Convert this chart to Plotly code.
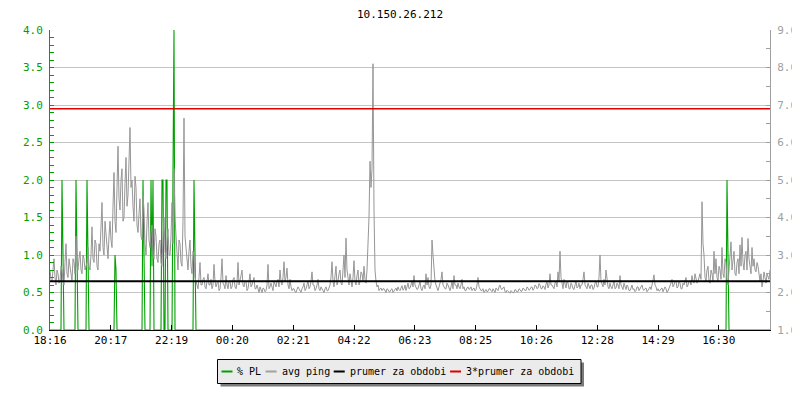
import plotly.graph_objects as go

# ---------------- data ----------------
title_text = "10.150.26.212"
series_names = ["% PL", "avg ping", "prumer za obdobi", "3*prumer za obdobi"]
tick_labels = ["18:16", "20:17", "22:19", "00:20", "02:21", "04:22",
               "06:23", "08:25", "10:26", "12:28", "14:29", "16:30"]
tick_step_min = 121.6      # minutes between labelled ticks
sample_step_min = 2        # minutes between samples
span_min = 1440

# avg ping [ms] (right axis), one value per sample (2 min)
avg_ping = [
    2.6, 2.35, 2.3, 2.75, 2.9, 2.4, 2.2, 2.6, 2.5, 2.25, 2.3, 2.7, 2.6, 2.3, 2.2, 2.8, 3.3, 2.5, 2.4, 2.9,
    2.7, 2.4, 2.3, 2.9, 2.8, 2.5, 3.5, 2.7, 2.6, 2.9, 3.1, 2.6, 2.5, 3.0, 2.9, 2.6, 2.7, 2.8, 3.2, 2.7,
    2.6, 3.0, 3.75, 2.9, 2.8, 3.4, 3.3, 2.7, 2.6, 3.3, 3.1, 3.6, 4.4, 3.2, 3.0, 3.9, 3.6, 3.1, 2.9, 3.5,
    3.9, 3.4, 3.2, 4.3, 5.2, 3.9, 3.6, 4.8, 5.9, 4.5, 4.2, 5.0, 5.3, 3.9, 4.0, 4.9, 5.6, 4.3, 4.6, 5.5,
    6.4, 4.8, 5.0, 4.3, 3.9, 5.1, 4.8, 3.8, 3.6, 4.1, 4.5, 3.5, 3.4, 4.6, 4.2, 3.3, 3.0, 3.9, 4.4, 3.4,
    3.2, 3.6, 3.8, 3.0, 2.9, 3.7, 3.5, 2.9, 2.8, 3.3, 3.4, 2.8, 2.7, 3.5, 4.0, 3.1, 2.9, 3.4, 3.7, 3.0,
    3.0, 3.5, 4.4, 3.3, 5.3, 4.0, 3.6, 2.9, 2.6, 3.4, 3.3, 2.8, 2.7, 3.9, 6.65, 3.5, 3.2, 2.7, 2.6, 3.1,
    3.4, 2.7, 2.5, 3.1, 3.0, 2.4, 2.3, 2.2, 2.1, 2.4, 2.8, 2.2, 2.2, 2.35, 2.4, 2.15, 2.1, 2.3, 2.5, 2.2,
    2.2, 2.35, 2.1, 2.2, 2.75, 2.3, 2.15, 2.25, 2.3, 2.05, 2.1, 2.4, 2.9, 2.25, 2.2, 2.1, 2.45, 2.2, 2.1, 2.3,
    2.3, 2.1, 2.15, 2.35, 2.4, 2.15, 2.1, 2.25, 2.8, 2.2, 2.3, 2.45, 2.6, 2.2, 2.15, 2.3, 2.3, 2.05, 2.1, 2.25,
    2.5, 2.15, 2.2, 2.3, 2.4, 2.1, 2.1, 2.2, 2.05, 2.0, 2.15, 2.05, 2.0, 2.12, 2.1, 2.02, 2.05, 2.2, 2.75, 2.1,
    2.15, 2.25, 2.1, 2.05, 2.3, 2.2, 2.15, 2.3, 2.35, 2.15, 2.6, 2.3, 2.2, 2.4, 2.82, 2.3, 2.4, 2.65, 2.2, 2.1,
    2.35, 2.15, 2.05, 2.1, 2.1, 2.02, 2.0, 2.08, 2.15, 2.1, 2.05, 2.0, 2.1, 2.15, 2.25, 2.05, 2.1, 2.2, 2.3, 2.1,
    2.15, 2.3, 2.55, 2.2, 2.2, 2.05, 2.1, 2.2, 2.35, 2.1, 2.05, 2.15, 2.1, 2.02, 2.0, 2.1, 2.15, 2.05, 2.05, 2.12,
    2.2, 2.4, 2.82, 2.3, 2.15, 2.45, 2.7, 2.2, 2.3, 2.5, 2.6, 2.25, 2.2, 2.6, 3.0, 2.4, 3.45, 2.6, 2.3, 2.2,
    2.5, 2.25, 2.15, 2.4, 2.85, 2.3, 2.2, 2.45, 2.6, 2.2, 2.3, 2.55, 2.5, 2.3, 2.7, 2.35, 2.25, 2.6, 3.3, 4.0,
    5.5, 4.8, 5.3, 8.1, 4.2, 2.6, 2.3, 2.15, 2.2, 2.05, 2.1, 2.12, 2.05, 2.1, 2.1, 2.04, 2.0, 2.1, 2.08, 2.02,
    2.02, 2.08, 2.1, 2.0, 2.05, 2.1, 2.12, 2.04, 2.15, 2.08, 2.05, 2.12, 2.18, 2.06, 2.1, 2.2, 2.05, 2.15, 2.25, 2.1,
    2.12, 2.2, 2.3, 2.15, 2.45, 2.2, 2.15, 2.08, 2.1, 2.2, 2.3, 2.1, 2.05, 2.15, 2.2, 2.1, 2.5, 2.2, 2.4, 2.15,
    2.1, 2.2, 3.4, 3.0, 2.6, 2.3, 2.2, 2.1, 2.05, 2.15, 2.25, 2.35, 2.55, 2.2, 2.15, 2.1, 2.1, 2.25, 2.2, 2.1,
    2.05, 2.15, 2.3, 2.1, 2.45, 2.2, 2.2, 2.1, 2.25, 2.15, 2.1, 2.2, 2.35, 2.1, 2.15, 2.05, 2.05, 2.12, 2.15, 2.08,
    2.1, 2.15, 2.05, 2.1, 2.12, 2.04, 2.08, 2.2, 2.4, 2.15, 2.1, 2.05, 2.05, 2.1, 2.0, 2.06, 2.08, 2.02, 2.03, 2.1,
    2.1, 2.05, 2.02, 2.1, 2.06, 2.0, 2.12, 2.08, 2.05, 2.15, 2.2, 2.1, 2.08, 2.12, 2.15, 2.02, 2.0, 2.06, 2.04, 2.0,
    1.98, 2.05, 2.03, 1.99, 2.0, 2.08, 2.06, 2.01, 2.02, 2.1, 2.08, 2.03, 2.04, 2.12, 2.1, 2.05, 2.05, 2.15, 2.12, 2.06,
    2.08, 2.14, 2.15, 2.06, 2.1, 2.2, 2.18, 2.1, 2.12, 2.24, 2.2, 2.1, 2.1, 2.18, 2.15, 2.08, 2.22, 2.3, 2.12, 2.2,
    2.5, 2.2, 2.2, 2.15, 2.1, 2.25, 2.3, 2.15, 2.55, 2.3, 3.1, 2.4, 2.2, 2.1, 2.35, 2.2, 2.12, 2.3, 2.25, 2.1,
    2.1, 2.25, 2.2, 2.1, 2.08, 2.2, 2.3, 2.12, 2.15, 2.25, 2.1, 2.2, 2.2, 2.35, 2.55, 2.2, 2.15, 2.1, 2.25, 2.15,
    2.1, 2.2, 2.2, 2.08, 2.12, 2.25, 2.3, 2.15, 2.15, 2.4, 3.0, 2.3, 2.2, 2.15, 2.35, 2.2, 2.6, 2.3, 2.15, 2.1,
    2.25, 2.15, 2.1, 2.2, 2.3, 2.1, 2.12, 2.25, 2.2, 2.1, 2.45, 2.2, 2.15, 2.08, 2.25, 2.15, 2.08, 2.2, 2.15, 2.05,
    2.05, 2.12, 2.2, 2.08, 2.1, 2.02, 2.05, 2.15, 2.15, 2.05, 2.1, 2.18, 2.2, 2.08, 2.06, 2.1, 2.12, 2.02, 2.05, 2.1,
    2.15, 2.08, 2.2, 2.3, 2.47, 2.2, 2.15, 2.05, 2.1, 2.04, 2.05, 2.1, 2.12, 2.02, 2.08, 2.15, 2.1, 2.0, 2.04, 2.1,
    2.15, 2.25, 2.35, 2.15, 2.2, 2.3, 2.3, 2.12, 2.15, 2.3, 2.25, 2.1, 2.1, 2.25, 2.2, 2.35, 2.4, 2.15, 2.2, 2.3,
    2.3, 2.2, 2.45, 2.3, 2.25, 2.5, 2.4, 2.25, 2.3, 2.45, 2.5, 2.35, 4.42, 3.3, 3.0, 2.4, 2.3, 2.6, 2.7, 2.3,
    2.25, 2.6, 2.5, 2.3, 3.1, 2.5, 2.9, 2.4, 2.3, 2.7, 2.6, 2.35, 3.2, 2.5, 2.4, 2.9, 2.8, 2.35, 2.2, 2.6,
    3.0, 3.35, 2.6, 2.9, 3.1, 2.5, 2.45, 2.8, 2.9, 2.5, 3.27, 2.7, 3.47, 2.8, 2.6, 3.0, 3.1, 2.6, 3.44, 2.9,
    2.7, 2.5, 3.2, 2.7, 2.9, 2.6, 2.55, 2.8, 2.7, 2.4, 2.3, 2.5, 2.15, 2.3, 2.55, 2.4, 2.25, 2.5, 2.4, 2.35,
    2.6,
]

# % packet loss (left axis): sample index -> value, all other samples 0
pl_events = {12: 2.0, 13: 0.9, 26: 2.0, 27: 0.9, 37: 2.0, 38: 0.9, 65: 1.0, 66: 0.8,
             93: 2.0, 94: 1.0, 101: 2.0, 102: 0.85, 103: 2.0, 112: 2.0, 113: 2.0,
             116: 2.0, 117: 2.0, 123: 2.1, 124: 4.0, 144: 2.0, 145: 0.9,
             677: 2.0, 678: 0.65}

period_avg = 2.30  # prumer za obdobi [ms]

# ---------------- styling ----------------
FONT = "DejaVu Sans Mono"
GREEN = "#00a000"
GRAY = "#a0a0a0"
PING = "#969696"
RED = "#e00000"
GRID = "#c4c4c4"

OFF = 8                         # page body margin of the html page
FIG_W, FIG_H = 800 - OFF, 400 - OFF
L, T, W, H = 50, 30, 720, 300   # plot area in page px

n = len(avg_ping)
x = [i * sample_step_min for i in range(n)]
pl = [pl_events.get(i, 0.0) for i in range(n)]

fig = go.Figure()
fig.add_trace(go.Scatter(x=x, y=avg_ping, yaxis="y2", mode="lines",
                         line=dict(color=PING, width=1), name=series_names[1],
                         showlegend=False))
fig.add_trace(go.Scatter(x=x, y=pl, yaxis="y", mode="lines",
                         line=dict(color=GREEN, width=1.1), name=series_names[0],
                         showlegend=False))
fig.add_trace(go.Scatter(x=[0, span_min], y=[period_avg, period_avg], yaxis="y2",
                         mode="lines", line=dict(color="black", width=2.2),
                         name=series_names[2], showlegend=False))
fig.add_trace(go.Scatter(x=[0, span_min], y=[3 * period_avg, 3 * period_avg],
                         yaxis="y2", mode="lines", line=dict(color=RED, width=1.5),
                         name=series_names[3], showlegend=False))


# ---------------- manual legend (rrdtool style) ----------------
def px(v):
    return (v - L) / W


def py(v):
    return (T + H - v) / H


shapes = []
annotations = []
box = (217.5, 359.5, 581, 383.5)
shapes.append(dict(type="rect", xref="paper", yref="paper",
                   x0=px(box[0] + 3), x1=px(box[2] + 3), y0=py(box[1] + 3), y1=py(box[3] + 3),
                   fillcolor="#7a7a7a", line=dict(width=0), layer="above"))
shapes.append(dict(type="rect", xref="paper", yref="paper",
                   x0=px(box[0]), x1=px(box[2]), y0=py(box[1]), y1=py(box[3]),
                   fillcolor="#ebebeb", line=dict(color="black", width=1), layer="above"))
legend_colors = [GREEN, GRAY, "black", RED]
char_w = 6.02
cx = 221.5
cy = 371.5
for name, col in zip(series_names, legend_colors):
    shapes.append(dict(type="line", xref="paper", yref="paper",
                       x0=px(cx), x1=px(cx + 11), y0=py(cy), y1=py(cy),
                       line=dict(color=col, width=2), layer="above"))
    annotations.append(dict(xref="paper", yref="paper", x=px(cx + 14), y=py(cy),
                            xanchor="left", yanchor="middle", showarrow=False,
                            text=name, font=dict(family=FONT, size=10, color="black")))
    cx = cx + 15 + len(name) * char_w + 5

fig.update_layout(
    width=FIG_W, height=FIG_H,
    margin=dict(l=L - OFF, r=FIG_W - (L - OFF) - W, t=T - OFF,
                b=FIG_H - (T - OFF) - H, autoexpand=False),
    paper_bgcolor="white", plot_bgcolor="white",
    showlegend=False,
    title=dict(text=title_text, x=(400 - OFF) / FIG_W, xref="container", xanchor="center",
               y=1 - (14 - OFF) / FIG_H, yref="container", yanchor="middle",
               font=dict(family=FONT, size=11, color="black")),
    xaxis=dict(range=[0, span_min], showgrid=False, zeroline=False,
               showline=True, linecolor="black", linewidth=1,
               ticks="inside", ticklen=5, tickcolor="black",
               tickvals=[k * tick_step_min for k in range(len(tick_labels))],
               ticktext=tick_labels,
               tickfont=dict(family=FONT, size=11, color="black")),
    yaxis=dict(range=[0, 4], dtick=0.5, tickformat=".1f", zeroline=False,
               showline=True, linecolor=GREEN, linewidth=1,
               ticks="inside", ticklen=4, tickcolor=GREEN,
               showgrid=True, gridcolor=GRID, gridwidth=1,
               minor=dict(dtick=0.1, ticks="inside", ticklen=4, tickcolor=GREEN, showgrid=False),
               tickfont=dict(family=FONT, size=11, color=GREEN), ticklabelstandoff=4),
    yaxis2=dict(range=[1, 9], dtick=1, tickformat=".1f", zeroline=False,
                overlaying="y", side="right",
                showline=True, linecolor=GRAY, linewidth=1,
                ticks="inside", ticklen=4, tickcolor=GRAY, showgrid=False,
                minor=dict(dtick=0.5, ticks="inside", ticklen=4, tickcolor=GRAY, showgrid=False),
                tickfont=dict(family=FONT, size=11, color=GRAY), ticklabelstandoff=4),
    shapes=shapes,
    annotations=annotations,
)

fig.write_html("out.html")
